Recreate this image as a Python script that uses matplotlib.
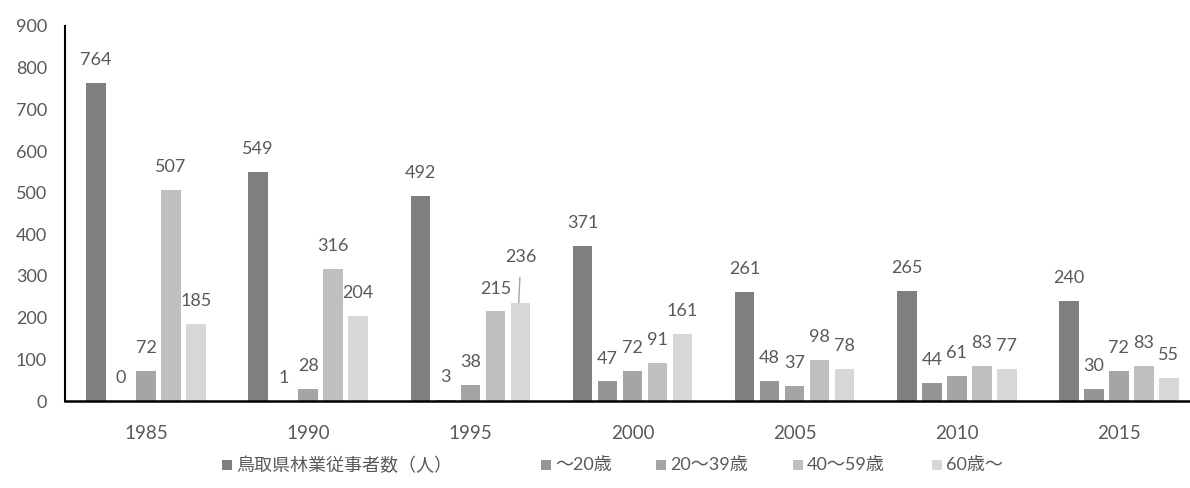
import matplotlib
matplotlib.use("Agg")
import matplotlib.pyplot as plt
from matplotlib.patches import Rectangle
import numpy as np

plt.rcParams['font.family'] = ['Lato', 'Noto Sans CJK JP', 'DejaVu Sans']

years = ['1985', '1990', '1995', '2000', '2005', '2010', '2015']
series_names = ['鳥取県林業従事者数（人）', '～20歳', '20～39歳', '40～59歳', '60歳～']
total = [764, 549, 492, 371, 261, 265, 240]
age_under20 = [0, 1, 3, 47, 48, 44, 30]
age_20_39 = [72, 28, 38, 72, 37, 61, 72]
age_40_59 = [507, 316, 215, 91, 98, 83, 83]
age_60_over = [185, 204, 236, 161, 78, 77, 55]
y_ticks = [0, 100, 200, 300, 400, 500, 600, 700, 800, 900]

series = [total, age_under20, age_20_39, age_40_59, age_60_over]
colors = ['#7f7f7f', '#959595', '#a5a5a5', '#bfbfbf', '#d7d7d7']
text_color = '#595959'

W, H = 1190, 488
fig = plt.figure(figsize=(W / 100, H / 100), dpi=100)
# plot area runs past the right edge of the figure
ax_left, ax_right = 65, 1200
ax_top, ax_bottom = 26, 401
ax = fig.add_axes([ax_left / W, 1 - ax_bottom / H,
                   (ax_right - ax_left) / W, (ax_bottom - ax_top) / H])

x = np.arange(len(years))
pitch = 25 / 162.1
bar_w = 19.5 / 162.1
offsets = (np.arange(5) - 2) * pitch

for i, (vals, col) in enumerate(zip(series, colors)):
    xs = x + offsets[i]
    ax.bar(xs, vals, width=bar_w, color=col, zorder=2)
    for j, (xx, v) in enumerate(zip(xs, vals)):
        if i == 4 and years[j] == '1995':
            # label lifted with a leader line
            ax.annotate(str(v), xy=(xx - 0.01, v), xytext=(1.5, 33),
                        textcoords='offset points', ha='center', va='center',
                        fontsize=13, color=text_color,
                        arrowprops=dict(arrowstyle='-', color='#a6a6a6',
                                        lw=1.0, shrinkA=7, shrinkB=0))
        else:
            ax.annotate(str(v), xy=(xx, v), xytext=(0, 16.5),
                        textcoords='offset points', ha='center', va='center',
                        fontsize=13, color=text_color)

ax.set_xlim(-0.5, len(years) - 0.5)
ax.set_ylim(0, 900)
ax.set_yticks(y_ticks)
ax.set_xticks(x)
ax.set_xticklabels(years)
ax.tick_params(axis='both', length=0, labelsize=13, labelcolor=text_color)
ax.tick_params(axis='x', labelsize=13.5)
ax.tick_params(axis='y', pad=13)
ax.tick_params(axis='x', pad=17)
for s in ['top', 'right']:
    ax.spines[s].set_visible(False)
ax.spines['left'].set_color('#000000')
ax.spines['bottom'].set_color('#000000')
ax.spines['left'].set_linewidth(1.5)
ax.spines['bottom'].set_linewidth(1.8)

# legend row: colour square followed by series name
legend_x = [222, 541, 656, 793, 932]
legend_y = 465
sq = 10
for lx, name, col in zip(legend_x, series_names, colors):
    fig.add_artist(Rectangle(((lx) / W, 1 - (legend_y + sq / 2) / H), sq / W, sq / H,
                             transform=fig.transFigure, facecolor=col, edgecolor='none'))
    fig.text((lx + sq + 4) / W, 1 - legend_y / H, name, ha='left', va='center',
             fontsize=13, color=text_color)

fig.savefig('out.png', dpi=100)
